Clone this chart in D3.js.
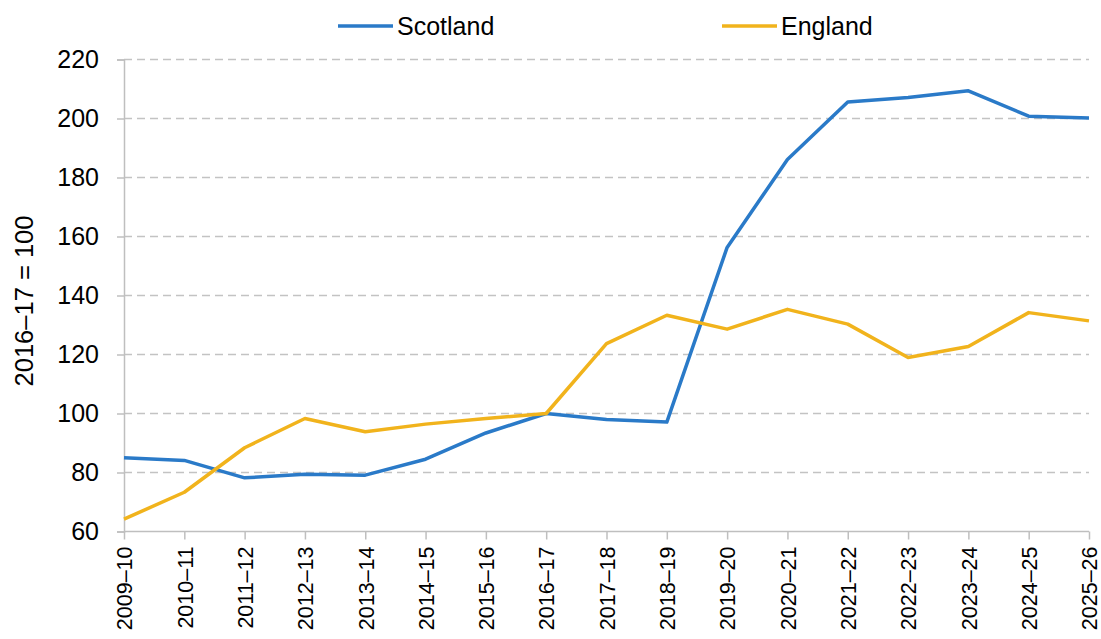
<!DOCTYPE html>
<html><head><meta charset="utf-8">
<script src="https://cdn.jsdelivr.net/npm/d3@7"></script>
<style>body{margin:0;background:#fff;} svg{display:block;font-family:"Liberation Sans",Arial,sans-serif;}</style>
</head><body>
<svg id="c" width="1101" height="639"></svg>
<script>
const categories = ["2009–10","2010–11","2011–12","2012–13","2013–14","2014–15","2015–16","2016–17","2017–18","2018–19","2019–20","2020–21","2021–22","2022–23","2023–24","2024–25","2025–26"];
const scotland = [85.0,84.1,78.2,79.4,79.1,84.5,93.4,100,98.0,97.1,156.3,186.1,205.6,207.1,209.4,200.8,200.2];
const england = [64.2,73.3,88.4,98.3,93.8,96.4,98.3,100,123.7,133.3,128.6,135.3,130.3,119.0,122.7,134.2,131.4];
const yTicks = [60,80,100,120,140,160,180,200,220];
const seriesNames = ["Scotland","England"];
const colors = ["#2a7ac8","#f1b31c"];

const svg = d3.select("#c");
const x = d3.scalePoint().domain(categories).range([124,1089]);
const y = d3.scaleLinear().domain([60,220]).range([531.5,59.5]);

// gridlines
svg.append("g").selectAll("line").data(yTicks.filter(d=>d>60)).join("line")
  .attr("x1",124).attr("x2",1089).attr("y1",d=>y(d)).attr("y2",d=>y(d))
  .attr("stroke","#c3c3c3").attr("stroke-width",1.5).attr("stroke-dasharray","8,5");

// y axis
const ya = svg.append("g").attr("transform","translate(124,0)")
  .call(d3.axisLeft(y).tickValues(yTicks).tickSize(7).tickPadding(18));
ya.selectAll("text").attr("font-size",25).attr("fill","#000").attr("font-family","Liberation Sans, Arial, sans-serif");
ya.selectAll("line,path").attr("stroke","#bfbfbf").attr("stroke-width",1.5);

// x axis
const xa = svg.append("g").attr("transform","translate(0,531.5)")
  .call(d3.axisBottom(x).tickSize(8).tickSizeOuter(0).tickPadding(6));
xa.select("path").attr("d","M124,0H1089");
xa.selectAll("line,path").attr("stroke","#bfbfbf").attr("stroke-width",1.5);
xa.selectAll("text").attr("font-size",21.5).attr("fill","#000")
  .attr("font-family","Liberation Sans, Arial, sans-serif")
  .attr("text-anchor","end").attr("transform","rotate(-90)")
  .attr("x",-15).attr("y",0).attr("dy","0.36em");

// lines
const line = d3.line().x((d,i)=>x(categories[i])).y(d=>y(d));
[scotland, england].forEach((s,k)=>{
  svg.append("path").datum(s).attr("d",line).attr("fill","none")
    .attr("stroke",colors[k]).attr("stroke-width",3.5).attr("stroke-linejoin","round");
});

// y title
svg.append("text").attr("transform","translate(24,301) rotate(-90)")
  .attr("text-anchor","middle").attr("dy","0.36em").attr("font-size",25.5).attr("fill","#000").text("2016–17 = 100");

// legend
const legX = [338, 722];
seriesNames.forEach((n,k)=>{
  const g = svg.append("g");
  g.append("line").attr("x1",legX[k]).attr("x2",legX[k]+55).attr("y1",26).attr("y2",26)
    .attr("stroke",colors[k]).attr("stroke-width",3.5);
  g.append("text").attr("x",legX[k]+59).attr("y",26).attr("dy","0.36em")
    .attr("font-size",25).attr("fill","#000").text(n);
});
</script>
</body></html>
